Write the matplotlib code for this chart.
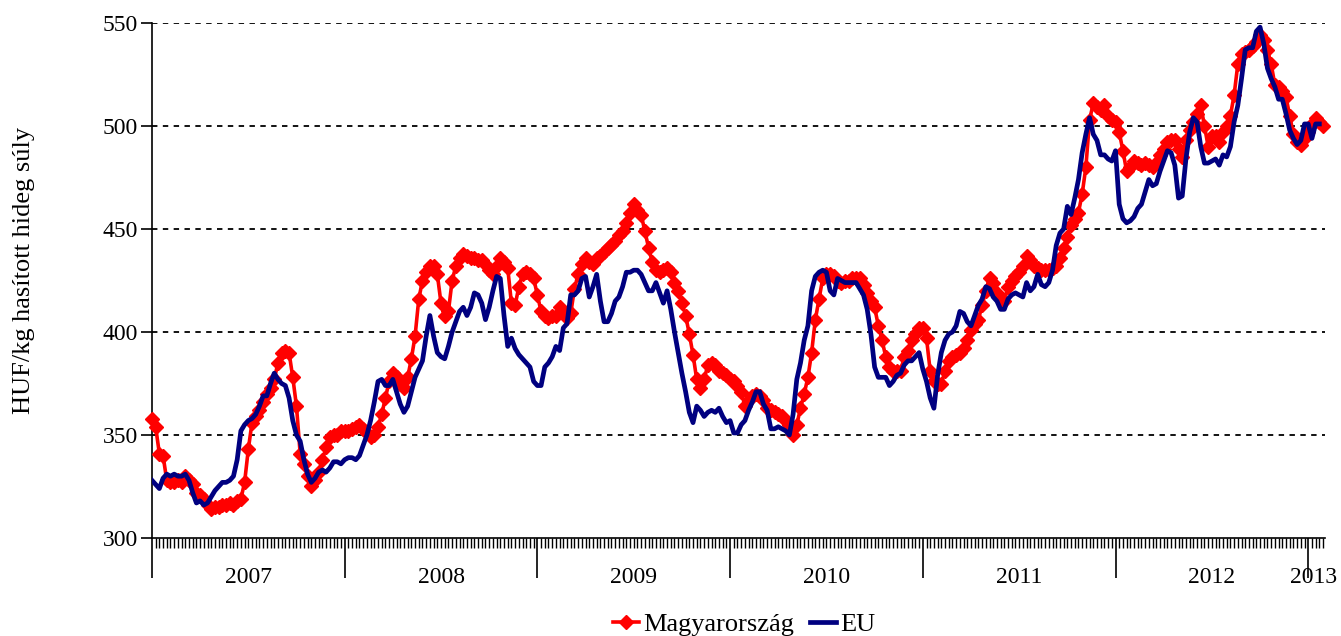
import numpy as np
import matplotlib
matplotlib.use("Agg")
import matplotlib.pyplot as plt

# weekly prices, HUF/kg, from first week of 2007
hu = [358, 354, 341, 340, 328, 327, 327, 328, 327, 330, 328, 326, 322, 321, 319, 316, 314, 315, 315, 316,
      316, 317, 316, 318, 319, 327, 343, 356, 359, 362, 366, 370, 373, 377, 385, 390, 391, 390, 378, 364,
      341, 336, 330, 325, 328, 332, 338, 344, 349, 350, 350, 352,
      352, 352, 353, 354, 355, 353, 351, 349, 350, 354, 360, 368, 376, 380, 378, 375, 373, 378, 387, 398,
      416, 425, 429, 432, 432, 428, 414, 408, 410, 425, 432, 436, 438, 437, 436, 436, 435, 435, 433, 430,
      428, 432, 436, 434, 431, 414, 413, 422, 428, 429, 428, 426,
      418, 410, 408, 407, 408, 408, 412, 409, 407, 409, 421, 428, 433, 436, 434, 433, 436, 437, 439, 441,
      442, 444, 447, 449, 453, 458, 462, 459, 457, 449, 441, 434, 430, 429, 430, 431, 429, 424, 420, 414,
      408, 399, 389, 377, 373, 377, 384, 385, 384, 381, 380, 379,
      377, 376, 374, 371, 364, 367, 369, 370, 369, 367, 363, 362, 361, 360, 359, 357, 355, 350, 355, 363,
      370, 378, 390, 406, 416, 426, 428, 428, 427, 425, 424, 425, 425, 426, 426, 426, 423, 419, 415, 412,
      403, 396, 388, 383, 381, 381, 381, 388, 391, 396, 399, 402,
      402, 397, 381, 376, 375, 375, 381, 386, 388, 389, 390, 392, 396, 401, 404, 406, 413, 420, 426, 424,
      419, 416, 415, 422, 425, 427, 429, 432, 437, 435, 432, 431, 430, 430, 430, 431, 432, 436, 441, 446,
      452, 455, 458, 467, 480, 503, 511, 509, 508, 510, 505, 503,
      502, 497, 488, 478, 480, 483, 482, 481, 482, 481, 480, 482, 486, 489, 492, 493, 493, 489, 485, 493,
      498, 502, 506, 510, 500, 490, 495, 495, 492, 497, 500, 505, 515, 530, 535, 536, 537, 539, 541, 544,
      542, 537, 530, 520, 519, 517, 514, 505, 496, 492, 491, 494,
      497, 501, 504, 502, 500]

eu = [328, 326, 324, 329, 331, 330, 331, 330, 330, 331, 328, 322, 317, 318, 316, 317, 320, 323, 325, 327,
      327, 328, 330, 338, 352, 355, 357, 358, 360, 364, 369, 369, 375, 380, 377, 375, 374, 368, 357, 350,
      347, 338, 331, 327, 329, 332, 333, 332, 334, 337, 337, 336,
      338, 339, 339, 338, 340, 345, 350, 357, 366, 376, 377, 374, 374, 377, 371, 365, 361, 364, 371, 378,
      382, 386, 398, 408, 398, 390, 388, 387, 393, 400, 405, 410, 412, 408, 412, 419, 418, 414, 406, 412,
      420, 427, 426, 408, 393, 397, 392, 389, 387, 385, 383, 376,
      374, 374, 383, 385, 388, 393, 391, 402, 404, 418, 418, 420, 426, 427, 417, 422, 428, 415, 405, 405,
      409, 415, 417, 422, 429, 429, 430, 430, 428, 424, 420, 420, 424, 419, 414, 420, 411, 400, 390, 380,
      371, 361, 356, 364, 362, 359, 361, 362, 361, 363, 359, 356,
      357, 351, 351, 355, 357, 362, 366, 371, 371, 365, 362, 353, 353, 354, 353, 352, 350, 360, 377, 385,
      396, 403, 420, 427, 429, 430, 429, 420, 418, 426, 425, 424, 424, 424, 424, 421, 418, 411, 399, 383,
      378, 378, 378, 374, 376, 379, 380, 384, 386, 386, 388, 390,
      382, 376, 368, 363, 379, 390, 396, 399, 400, 403, 410, 409, 405, 403, 408, 413, 416, 422, 421, 417,
      415, 411, 411, 416, 418, 419, 418, 417, 424, 420, 422, 428, 423, 422, 424, 430, 442, 448, 450, 461,
      457, 465, 474, 487, 496, 504, 496, 493, 486, 486, 484, 483,
      488, 462, 455, 453, 454, 456, 460, 462, 468, 474, 471, 472, 478, 483, 488, 487, 481, 465, 466, 484,
      497, 504, 502, 490, 482, 482, 483, 484, 481, 486, 485, 490, 502, 510, 523, 537, 538, 538, 546, 548,
      540, 528, 523, 519, 513, 513, 506, 498, 494, 491, 493, 501,
      501, 494, 501, 501]

years = ["2007", "2008", "2009", "2010", "2011", "2012", "2013"]
year_start = [0, 52, 104, 156, 208, 260, 312]

plt.rcParams['font.family'] = ['Liberation Serif', 'DejaVu Serif']

fig = plt.figure(figsize=(13.41, 6.36), dpi=100)
ax = fig.add_axes([0.1133, 0.1541, 0.8747, 0.8097])

ax.plot(np.arange(len(hu)), hu, color='#FF0000', lw=2.6, marker='D', ms=7.5,
        mec='#FF0000', mfc='#FF0000', label='Magyarország', zorder=3, clip_on=False)
ax.plot(np.arange(len(eu)), eu, color='#000080', lw=3.4, label='EU', zorder=4)

ax.set_ylim(300, 550)
ax.set_xlim(0, 316.5)
ax.set_yticks([300, 350, 400, 450, 500, 550])
for v in [350, 400, 450, 500, 550]:
    ax.axhline(v, color='black', lw=1.3, ls=(0, (3, 3)), zorder=1)

ax.spines['top'].set_visible(False)
ax.spines['right'].set_visible(False)
ax.spines['left'].set_linewidth(1.2)
ax.spines['bottom'].set_linewidth(1.2)

ax.set_xticks(year_start)
ax.set_xticklabels([])
ax.set_xticks(np.arange(0, 317), minor=True)
ax.tick_params(axis='x', which='major', length=29, width=1.2, direction='out')
ax.tick_params(axis='x', which='minor', length=7, width=1.0, direction='out')
ax.tick_params(axis='y', which='major', length=8, width=1.2, direction='out', labelsize=17, pad=2)

ends = year_start[1:] + [316.5]
for lab, s, e in zip(years, year_start, ends):
    c = (s + e) / 2 if lab != "2013" else 313.5
    ax.annotate(lab, xy=(c, 0), xycoords=('data', 'axes fraction'), xytext=(0, -28.5),
                textcoords='offset points', ha='center', va='center', fontsize=17)

ax.set_ylabel('HUF/kg hasított hideg súly', fontsize=19)
ax.yaxis.set_label_coords(-0.100, 0.52)

fig.legend(loc='lower center', bbox_to_anchor=(0.555, -0.038), ncol=2, frameon=False,
           fontsize=19, handlelength=1.0, columnspacing=0.6, handletextpad=0.15)

fig.savefig('out.png', dpi=100)
